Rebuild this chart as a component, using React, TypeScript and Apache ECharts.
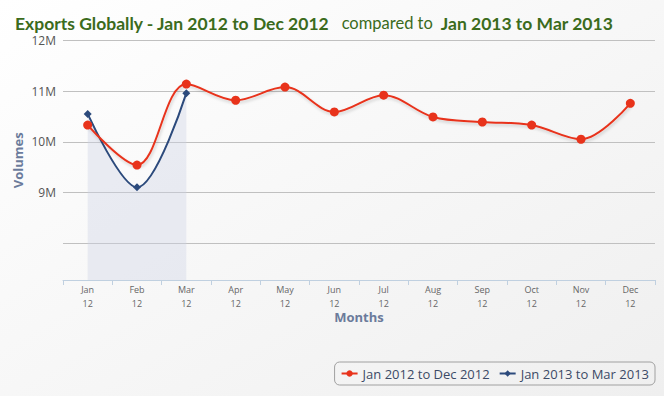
import React, { useEffect, useRef } from "react";
import * as echarts from "echarts";

const months = ["Jan", "Feb", "Mar", "Apr", "May", "Jun", "Jul", "Aug", "Sep", "Oct", "Nov", "Dec"];
const yearLabel = "12";
const series2012 = [10.33, 9.54, 11.14, 10.82, 11.08, 10.59, 10.92, 10.49, 10.39, 10.33, 10.05, 10.76];
const series2013 = [10.55, 9.1, 10.96];
const yLabelValues = [9, 10, 11, 12];
const gridValues = [8, 9, 10, 11, 12];
const seriesNames = ["Jan 2012 to Dec 2012", "Jan 2013 to Mar 2013"];

export default function App() {
  const ref = useRef<HTMLDivElement>(null);
  useEffect(() => {
    if (!ref.current) return;
    const chart = echarts.init(ref.current, undefined, { renderer: "svg" });
    const M = 1e6;
    chart.setOption({
      animation: false,
      backgroundColor: new echarts.graphic.LinearGradient(0, 0, 1, 1, [
        { offset: 0, color: "#ffffff" },
        { offset: 1, color: "#efefef" },
      ]),
      title: {
        left: 10,
        top: 9,
        text: "{b|Exports Globally - Jan 2012 to Dec 2012}{n|compared to}{b|Jan 2013 to Mar 2013}",
        textStyle: {
          rich: {
            b: { fontFamily: "Lato", fontWeight: "bold", fontSize: 17.5, color: "#3b6b1c" },
            n: { fontFamily: "Lato", fontWeight: "normal", fontSize: 16.5, color: "#3b6b1c", padding: [0, 8, 0, 12] },
          },
        },
      },
      grid: { left: 63, right: 9, top: 40.5, bottom: 116 },
      legend: {
        right: 9,
        bottom: 11,
        orient: "horizontal",
        data: seriesNames,
        itemWidth: 16,
        itemHeight: 8,
        itemGap: 9,
        padding: [5, 6, 5, 6],
        borderColor: "#a0a0a0",
        borderWidth: 1,
        borderRadius: 5,
        textStyle: { fontFamily: "Open Sans", fontSize: 13, color: "#3c4a66" },
      },
      xAxis: {
        type: "category",
        data: months,
        boundaryGap: true,
        name: "Months",
        nameLocation: "middle",
        nameGap: 30,
        nameMoveOverlap: false,
        nameTextStyle: { fontFamily: "Open Sans", fontWeight: "bold", fontSize: 13, color: "#6b7b9b" },
        axisLine: { lineStyle: { color: "#c0d0e0", width: 1 } },
        axisTick: { show: true, interval: 0, length: 5, lineStyle: { color: "#c0d0e0" } },
        axisLabel: {
          interval: 0,
          formatter: (v: string) => "{a|" + v + "}\n{b|" + yearLabel + "}",
          margin: 1,
          rich: {
            a: { fontFamily: "Open Sans", fontSize: 9, lineHeight: 17, color: "#666" },
            b: { fontFamily: "Open Sans", fontSize: 9, lineHeight: 11, color: "#666" },
          },
        },
        splitLine: { show: false },
      },
      yAxis: {
        type: "value",
        min: 7.27 * M,
        max: 12 * M,
        name: "Volumes",
        nameLocation: "middle",
        nameGap: 39,
        nameMoveOverlap: false,
        nameTextStyle: { fontFamily: "Open Sans", fontWeight: "bold", fontSize: 13, color: "#6b7b9b" },
        axisLine: { show: false },
        axisTick: { show: false, customValues: gridValues.map((v) => v * M) },
        axisLabel: {
          customValues: yLabelValues.map((v) => v * M),
          formatter: (v: number) => Math.round(v / M) + "M",
          fontFamily: "Open Sans",
          fontSize: 12,
          margin: 7,
          color: "#555",
        },
        splitLine: { show: true, lineStyle: { color: "#c0c0c0", width: 1 } },
      },
      series: [
        {
          name: seriesNames[1],
          type: "line",
          data: series2013.map((v) => v * M),
          smooth: 0.35,
          symbol: "diamond",
          symbolSize: 8,
          z: 2,
          itemStyle: { color: "#2c4a7c" },
          lineStyle: { color: "#2c4a7c", width: 2 },
          areaStyle: { color: "rgba(205,212,228,0.55)" },
        },
        {
          name: seriesNames[0],
          type: "line",
          data: series2012.map((v) => v * M),
          smooth: 0.35,
          symbol: "circle",
          symbolSize: 9,
          z: 3,
          itemStyle: { color: "#e8331b" },
          lineStyle: {
            color: "#e8331b",
            width: 2,
            shadowColor: "rgba(0,0,0,0.18)",
            shadowBlur: 3,
            shadowOffsetY: 2,
            shadowOffsetX: 1,
          },
        },
      ],
    });
    return () => chart.dispose();
  }, []);
  return (
    <div
      ref={ref}
      style={{ position: "fixed", left: 0, top: 0, width: 664, height: 396 }}
    />
  );
}
